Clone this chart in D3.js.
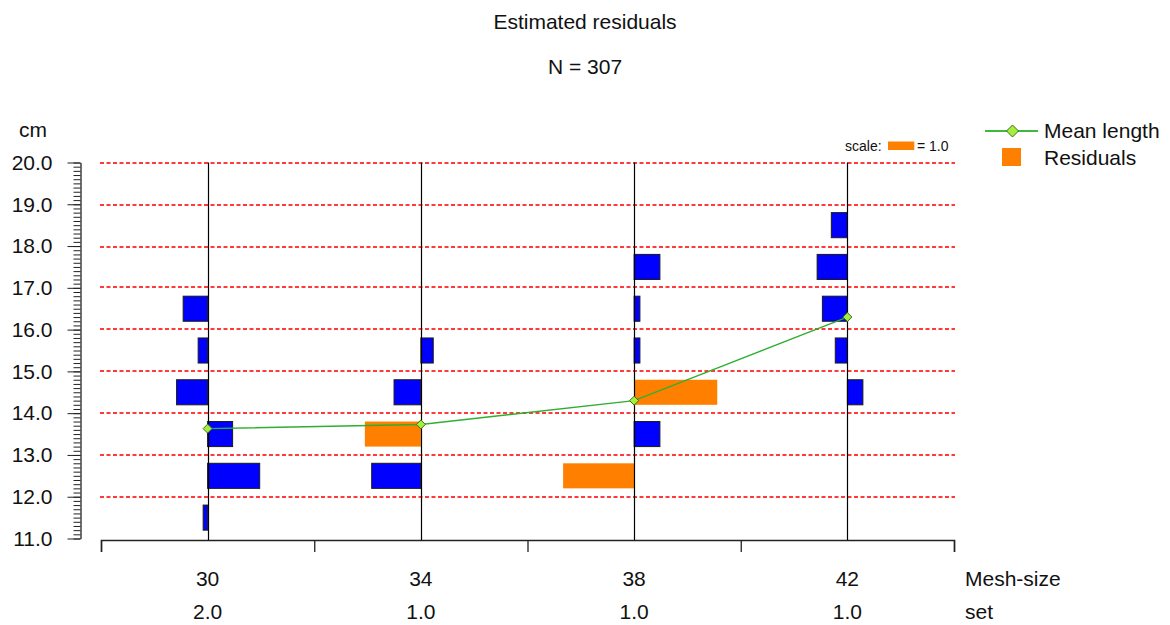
<!DOCTYPE html>
<html>
<head>
<meta charset="utf-8">
<script src="https://cdn.jsdelivr.net/npm/d3@7"></script>
<style>
  html, body { margin: 0; padding: 0; background: #fff; }
  svg { display: block; font-family: "Liberation Sans", Arial, sans-serif; }
</style>
</head>
<body>
<svg id="chart" width="1170" height="625"></svg>
<script>
// Mesh sizes, number of sets fished, and mean length caught per mesh
const meshSizes = ["30", "34", "38", "42"];
const setCounts = ["2.0", "1.0", "1.0", "1.0"];
const meanLength = [13.63, 13.73, 14.30, 16.30];

// Residuals per 1-cm length class (class midpoint, residual) for each mesh
const residuals30 = [[16.5, -0.93], [15.5, -0.36], [14.5, -1.18], [13.5, 0.95], [12.5, 1.98], [11.5, -0.17]];
const residuals34 = [[15.5, 0.47], [14.5, -1.02], [13.5, -2.13], [12.5, -1.87]];
const residuals38 = [[17.5, 0.98], [16.5, 0.22], [15.5, 0.22], [14.5, 3.16], [13.5, 0.98], [12.5, -2.70]];
const residuals42 = [[18.5, -0.61], [17.5, -1.15], [16.5, -0.95], [15.5, -0.46], [14.5, 0.59]];
const residualSets = [residuals30, residuals34, residuals38, residuals42];

const yTicks = [11, 12, 13, 14, 15, 16, 17, 18, 19, 20];
const gridValues = [12, 13, 14, 15, 16, 17, 18, 19, 20];
const classWidth = 1.0;      // length class width in cm
const barFraction = 0.6;     // share of the class a bar occupies
const highlightLimit = 2.0;  // residuals beyond this are drawn in orange

const svg = d3.select("#chart");
const font = "'Liberation Sans', Arial, sans-serif";
const textColor = "#111";
const fs = 21;

const y = d3.scaleLinear().domain([11, 20]).range([538.5, 162.5]);
const x = d3.scaleBand().domain(meshSizes).range([101, 954]).paddingInner(0).paddingOuter(0);
const cx = m => x(m) + x.bandwidth() / 2;
const r = d3.scaleLinear().domain([0, 1]).range([0, 26.3]);

// Titles
svg.append("text").attr("x", 585).attr("y", 29).attr("text-anchor", "middle")
  .attr("font-size", fs).attr("fill", textColor).text("Estimated residuals");
svg.append("text").attr("x", 585).attr("y", 74).attr("text-anchor", "middle")
  .attr("font-size", fs).attr("fill", textColor).text("N = 307");

// Horizontal dashed gridlines (2px, snapped to even pixel rows)
const snap = v => 2 * Math.floor(v / 2) + 1;
svg.append("g").selectAll("line").data(gridValues).join("line")
  .attr("x1", 100).attr("x2", 955)
  .attr("y1", d => snap(y(d))).attr("y2", d => snap(y(d)))
  .attr("stroke", "#ff3a3a").attr("stroke-width", 2).attr("stroke-dasharray", "4,2.5");

// Y axis: minor ticks every 0.1 cm, labelled major ticks every 1 cm
const yAxisX = 80.5;
const minorTicks = d3.range(110, 201).map(v => v / 10);
svg.append("g").attr("transform", `translate(${yAxisX},0)`)
  .call(d3.axisLeft(y).tickValues(minorTicks).tickSize(7).tickFormat(""))
  .call(g => g.select(".domain").remove())
  .call(g => g.selectAll("line").attr("stroke", "#222"));
svg.append("g").attr("transform", `translate(${yAxisX},0)`)
  .call(d3.axisLeft(y).tickValues(yTicks).tickSize(13).tickSizeOuter(0).tickPadding(15).tickFormat(d3.format(".1f")))
  .call(g => g.select(".domain").attr("stroke", "#222").attr("stroke-width", 1.3))
  .call(g => g.selectAll("line").attr("stroke", "#222"))
  .call(g => g.selectAll("text").attr("font-size", fs).attr("font-family", font).attr("fill", textColor));
svg.append("text").attr("x", 19).attr("y", 137).attr("font-size", fs).attr("fill", textColor).text("cm");

// Bottom axis with ticks at the mesh band boundaries
const edges = d3.scaleLinear().domain([0, meshSizes.length]).range(x.range());
svg.append("g").attr("transform", "translate(0,540)")
  .call(d3.axisBottom(edges).ticks(meshSizes.length).tickSize(12).tickSizeOuter(12).tickFormat(""))
  .call(g => g.select(".domain").attr("stroke", "#222").attr("stroke-width", 1.5))
  .call(g => g.selectAll("line").attr("stroke", "#222").attr("stroke-width", 1.3));

// Residual bars
const bars = residualSets.flatMap((set, i) => set.map(([len, res]) => ({ mesh: meshSizes[i], len, res })));
svg.append("g").selectAll("rect").data(bars).join("rect")
  .attr("x", d => cx(d.mesh) + Math.min(0, r(d.res)))
  .attr("width", d => Math.abs(r(d.res)))
  .attr("y", d => y(d.len + classWidth * barFraction / 2))
  .attr("height", d => y(d.len - classWidth * barFraction / 2) - y(d.len + classWidth * barFraction / 2))
  .attr("fill", d => Math.abs(d.res) > highlightLimit ? "#ff8000" : "#0000ff")
  .attr("stroke", d => Math.abs(d.res) > highlightLimit ? "none" : "#1a1a1a")
  .attr("stroke-width", 1);

// Vertical mesh reference lines
svg.append("g").selectAll("line").data(meshSizes).join("line")
  .attr("x1", d => Math.round(cx(d)) + 0.5).attr("x2", d => Math.round(cx(d)) + 0.5)
  .attr("y1", y(20)).attr("y2", 540)
  .attr("stroke", "#000").attr("stroke-width", 1.2);

// Mean length line with diamond markers
const meanPts = meshSizes.map((m, i) => [cx(m), y(meanLength[i])]);
svg.append("path").datum(meanPts)
  .attr("d", d3.line())
  .attr("fill", "none").attr("stroke", "#2fae2f").attr("stroke-width", 1.4);
const diamond = (s) => `M0,${-s}L${s},0L0,${s}L${-s},0Z`;
svg.append("g").selectAll("path").data(meanPts).join("path")
  .attr("transform", d => `translate(${d[0]},${d[1]})`)
  .attr("d", diamond(4.5))
  .attr("fill", "#a6ee3c").attr("stroke", "#3c6e1a").attr("stroke-width", 1);

// Scale key for residual bar length
const scaleG = svg.append("g");
scaleG.append("text").attr("x", 845).attr("y", 150.5).attr("font-size", 14).attr("fill", textColor).text("scale:");
scaleG.append("rect").attr("x", 888).attr("y", 141.5).attr("width", r(1.0)).attr("height", 8.5).attr("fill", "#ff8000");
scaleG.append("text").attr("x", 917).attr("y", 150.5).attr("font-size", 14).attr("fill", textColor).text("= 1.0");

// Legend
const lg = svg.append("g");
lg.append("line").attr("x1", 985).attr("x2", 1038).attr("y1", 131).attr("y2", 131)
  .attr("stroke", "#3fb83f").attr("stroke-width", 2);
lg.append("path").attr("transform", "translate(1012.5,131)").attr("d", diamond(6))
  .attr("fill", "#a6ee3c").attr("stroke", "#3c6e1a").attr("stroke-width", 1);
lg.append("text").attr("x", 1044).attr("y", 138).attr("font-size", fs).attr("fill", textColor).text("Mean length");
lg.append("rect").attr("x", 1002).attr("y", 148).attr("width", 19).attr("height", 18).attr("fill", "#ff8000");
lg.append("text").attr("x", 1044).attr("y", 165).attr("font-size", fs).attr("fill", textColor).text("Residuals");

// Category labels below the axis
const labels = svg.append("g").attr("font-size", fs).attr("fill", textColor);
labels.selectAll(".mesh").data(meshSizes).join("text").attr("class", "mesh")
  .attr("x", d => cx(d)).attr("y", 586).attr("text-anchor", "middle").text(d => d);
labels.selectAll(".set").data(meshSizes).join("text").attr("class", "set")
  .attr("x", d => cx(d)).attr("y", 619).attr("text-anchor", "middle").text((d, i) => setCounts[i]);
labels.append("text").attr("x", 965).attr("y", 586).text("Mesh-size");
labels.append("text").attr("x", 965).attr("y", 619).text("set");
</script>
</body>
</html>
